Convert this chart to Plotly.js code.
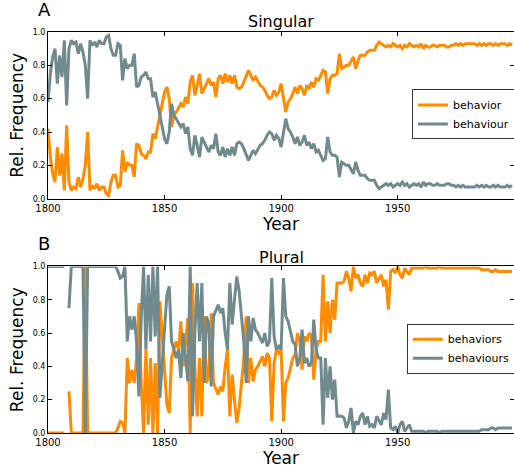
<!DOCTYPE html>
<html><head><meta charset="utf-8">
<script src="https://cdn.plot.ly/plotly-3.0.1.min.js"></script>
<style>html,body{margin:0;padding:0;background:#fff}#chart{width:514px;height:470px}</style>
</head><body><div id="chart"></div>
<script>
const startYear = 1800;
const nYears = 200;
const years = Array.from({length: nYears}, (_, i) => startYear + i);
const xTicks = [1800, 1850, 1900, 1950];
const yTicks = [0, 0.2, 0.4, 0.6, 0.8, 1.0];

const singularBehavior = [
0.42,0.25,0.15,0.10,0.31,0.14,0.27,0.05,0.44,0.10,
0.05,0.07,0.06,0.13,0.07,0.12,0.20,0.40,0.05,0.08,
0.06,0.09,0.05,0.07,0.07,0.03,0.02,0.10,0.14,0.14,
0.07,0.08,0.29,0.16,0.22,0.20,0.20,0.13,0.33,0.32,
0.27,0.26,0.24,0.28,0.28,0.39,0.36,0.43,0.50,0.58,
0.64,0.67,0.60,0.43,0.50,0.52,0.55,0.57,0.55,0.61,
0.57,0.70,0.74,0.62,0.68,0.75,0.63,0.66,0.70,0.72,
0.68,0.70,0.61,0.72,0.74,0.69,0.75,0.70,0.74,0.69,
0.74,0.67,0.66,0.67,0.70,0.73,0.77,0.74,0.71,0.73,
0.70,0.68,0.67,0.65,0.62,0.60,0.61,0.65,0.62,0.64,
0.69,0.60,0.52,0.58,0.60,0.63,0.67,0.63,0.68,0.66,
0.62,0.68,0.66,0.70,0.67,0.72,0.71,0.74,0.77,0.76,
0.63,0.72,0.74,0.74,0.75,0.87,0.78,0.79,0.80,0.80,
0.83,0.85,0.78,0.83,0.86,0.86,0.86,0.88,0.89,0.89,
0.89,0.92,0.94,0.93,0.92,0.91,0.92,0.91,0.93,0.92,
0.91,0.92,0.90,0.92,0.91,0.93,0.92,0.91,0.92,0.91,
0.93,0.90,0.92,0.91,0.91,0.92,0.92,0.91,0.92,0.92,
0.92,0.91,0.91,0.92,0.92,0.93,0.92,0.93,0.92,0.93,
0.93,0.93,0.93,0.93,0.92,0.93,0.92,0.93,0.92,0.93,
0.93,0.92,0.93,0.92,0.93,0.93,0.93,0.92,0.93,0.92
];
const singularBehaviour = [
0.58,0.75,0.85,0.90,0.69,0.86,0.73,0.95,0.56,0.90,
0.95,0.93,0.94,0.87,0.93,0.88,0.80,0.60,0.95,0.92,
0.94,0.91,0.95,0.93,0.93,0.97,0.98,0.90,0.86,0.86,
0.93,0.92,0.71,0.84,0.78,0.80,0.80,0.87,0.67,0.68,
0.73,0.74,0.76,0.72,0.72,0.61,0.64,0.57,0.50,0.42,
0.36,0.33,0.40,0.57,0.50,0.48,0.45,0.43,0.45,0.39,
0.43,0.30,0.26,0.38,0.32,0.25,0.37,0.34,0.30,0.28,
0.32,0.30,0.39,0.28,0.26,0.31,0.25,0.30,0.26,0.31,
0.26,0.33,0.34,0.33,0.30,0.27,0.23,0.26,0.29,0.27,
0.30,0.32,0.33,0.35,0.38,0.40,0.39,0.35,0.38,0.36,
0.31,0.40,0.48,0.42,0.40,0.37,0.33,0.37,0.32,0.34,
0.38,0.32,0.34,0.30,0.33,0.28,0.29,0.26,0.23,0.24,
0.37,0.28,0.26,0.26,0.25,0.13,0.22,0.21,0.20,0.20,
0.17,0.15,0.22,0.17,0.14,0.14,0.14,0.12,0.11,0.11,
0.11,0.08,0.06,0.07,0.08,0.09,0.08,0.09,0.07,0.08,
0.09,0.08,0.10,0.08,0.09,0.07,0.08,0.09,0.08,0.09,
0.07,0.10,0.08,0.09,0.09,0.08,0.08,0.09,0.08,0.08,
0.08,0.09,0.09,0.08,0.08,0.07,0.08,0.07,0.08,0.07,
0.07,0.07,0.07,0.07,0.08,0.07,0.08,0.07,0.08,0.07,
0.07,0.08,0.07,0.08,0.07,0.07,0.07,0.08,0.07,0.08
];
const pluralBehaviors = [
0,0,0,0,0,0,0,0,null,0.25,
0,0,0,0,0,0,1.0,0,0,0,
0,0,0,0,0,0,0,0,0,0,
0.03,0.07,0.06,0.0,0.45,0.30,0.38,0.30,0.45,0.78,
0.30,0.0,0.50,0.05,0.45,0.0,0.42,0.0,0.79,0.60,
0.35,0.17,0.12,0.45,0.50,0.55,0.50,0.67,0.40,0.55,
0.69,0.0,0.90,0.40,0.10,0.45,0.10,0.70,0.30,0.35,
0.72,0.30,0.27,0.23,0.28,0.25,0.40,0.50,0.10,0.35,
0.20,0.06,0.15,0.30,0.45,0.70,0.30,0.45,0.31,0.38,
0.40,0.43,0.46,0.40,0.48,0.45,0.07,0.42,0.50,0.48,
0.50,0.07,0.30,0.33,0.40,0.45,0.47,0.60,0.55,0.38,
0.58,0.55,0.60,0.58,0.32,0.50,0.55,0.55,0.95,0.55,
0.79,0.60,0.80,0.68,0.90,0.90,0.90,0.91,0.97,0.93,
0.85,1.0,0.93,0.95,0.90,0.88,0.95,0.90,0.96,0.95,
0.97,0.90,0.93,0.95,0.88,0.92,0.74,0.97,0.98,0.96,
1.0,0.95,0.93,0.99,0.97,0.95,0.99,0.99,0.99,0.99,
0.99,0.99,1.0,0.99,0.99,0.99,0.99,0.99,1.0,0.99,
0.99,0.99,0.99,0.99,0.99,0.99,0.99,0.99,0.99,0.99,
0.99,0.99,0.99,0.99,0.99,0.99,0.98,0.98,0.98,0.98,
0.97,0.97,0.98,0.97,0.97,0.97,0.97,0.97,0.97,0.97
];
const pluralBehaviours = [
1,1,1,1,1,1,1,1,null,0.75,
1,1,1,1,1,1,0,1,1,1,
1,1,1,1,1,1,1,1,1,1,
0.97,0.93,0.94,1.0,0.55,0.70,0.62,0.70,0.55,0.22,
0.70,1.0,0.50,0.95,0.55,1.0,0.58,1.0,0.21,0.40,
0.65,0.83,0.88,0.55,0.50,0.45,0.50,0.33,0.60,0.45,
0.31,1.0,0.10,0.60,0.90,0.55,0.90,0.30,0.70,0.65,
0.28,0.70,0.73,0.77,0.72,0.75,0.60,0.50,0.90,0.65,
0.80,0.94,0.85,0.70,0.55,0.30,0.70,0.55,0.69,0.62,
0.60,0.57,0.54,0.60,0.52,0.55,0.93,0.58,0.50,0.52,
0.50,0.93,0.70,0.67,0.60,0.55,0.53,0.40,0.45,0.62,
0.42,0.45,0.40,0.42,0.68,0.50,0.45,0.45,0.05,0.45,
0.21,0.40,0.20,0.32,0.10,0.10,0.10,0.09,0.03,0.07,
0.15,0.0,0.07,0.05,0.10,0.12,0.05,0.10,0.04,0.05,
0.03,0.10,0.07,0.05,0.12,0.08,0.26,0.03,0.02,0.04,
0.0,0.05,0.07,0.01,0.03,0.05,0.01,0.01,0.01,0.01,
0.01,0.01,0.0,0.01,0.01,0.01,0.01,0.01,0.0,0.01,
0.01,0.01,0.01,0.01,0.01,0.01,0.01,0.01,0.01,0.01,
0.01,0.01,0.01,0.01,0.01,0.01,0.02,0.02,0.02,0.02,
0.03,0.03,0.02,0.03,0.03,0.03,0.03,0.03,0.03,0.03
];

const ORANGE = '#ff8c00';
const GRAY = '#718a8d';
const FONT = 'DejaVu Sans, Bitstream Vera Sans, sans-serif';

function tr(y, name, color, xa, ya, lg) {
  return {x: years, y: y, name: name, type: 'scatter', mode: 'lines',
    line: {color: color, width: 3}, xaxis: xa, yaxis: ya, legend: lg,
    connectgaps: false, hoverinfo: 'skip'};
}
const data = [
  tr(singularBehavior, 'behavior', ORANGE, 'x', 'y', 'legend'),
  tr(singularBehaviour, 'behaviour', GRAY, 'x', 'y', 'legend'),
  tr(pluralBehaviors, 'behaviors', ORANGE, 'x2', 'y2', 'legend2'),
  tr(pluralBehaviours, 'behaviours', GRAY, 'x2', 'y2', 'legend2')
];

function xax(anchor) {
  return {anchor: anchor, range: [1800, 1999.9], tickvals: xTicks, ticks: 'inside', ticklen: 4,
    tickcolor: '#000', showline: true, linecolor: '#000', linewidth: 1, mirror: 'ticks',
    showgrid: false, zeroline: false, tickfont: {size: 10, color: '#000'},
    title: {text: 'Year', font: {size: 17, color: '#000'}, standoff: 3}};
}
function yax(anchor, domain) {
  return {anchor: anchor, domain: domain, range: [0, 1], tickvals: yTicks, tickformat: '.1f',
    ticks: 'inside', ticklen: 4, tickcolor: '#000', showline: true, linecolor: '#000', linewidth: 1,
    mirror: 'ticks', showgrid: false, zeroline: false, tickfont: {size: 8, color: '#000'},
    title: {text: 'Rel. Frequency', font: {size: 17, color: '#000'}, standoff: 4}};
}

const legendBase = {bgcolor: '#fff', bordercolor: '#333', borderwidth: 1,
  font: {size: 11, color: '#000'}, xanchor: 'left', yanchor: 'top', xref: 'paper', yref: 'paper'};

const layout = {
  width: 514, height: 470,
  margin: {l: 47.7, r: 0, t: 32.3, b: 36.7, autoexpand: false},
  paper_bgcolor: '#fff', plot_bgcolor: '#fff',
  font: {family: FONT, color: '#000'},
  showlegend: true,
  xaxis: xax('y'), yaxis: yax('x', [0.5843, 1]),
  xaxis2: xax('y2'), yaxis2: yax('x2', [0, 0.4155]),
  legend: Object.assign({x: 0.781, y: 0.8569}, legendBase),
  legend2: Object.assign({x: 0.770, y: 0.2726}, legendBase),
  annotations: [
    {text: 'Singular', x: 0.5, y: 1.0257, xref: 'paper', yref: 'paper', showarrow: false,
      xanchor: 'center', yanchor: 'middle', font: {size: 16}},
    {text: 'Plural', x: 0.5, y: 0.4384, xref: 'paper', yref: 'paper', showarrow: false,
      xanchor: 'center', yanchor: 'middle', font: {size: 16}},
    {text: 'A', x: -0.0079, y: 1.0569, xref: 'paper', yref: 'paper', showarrow: false,
      xanchor: 'center', yanchor: 'middle', font: {size: 18}},
    {text: 'B', x: -0.0079, y: 0.4721, xref: 'paper', yref: 'paper', showarrow: false,
      xanchor: 'center', yanchor: 'middle', font: {size: 18}}
  ]
};

Plotly.newPlot('chart', data, layout, {staticPlot: true, displayModeBar: false});
</script></body></html>
